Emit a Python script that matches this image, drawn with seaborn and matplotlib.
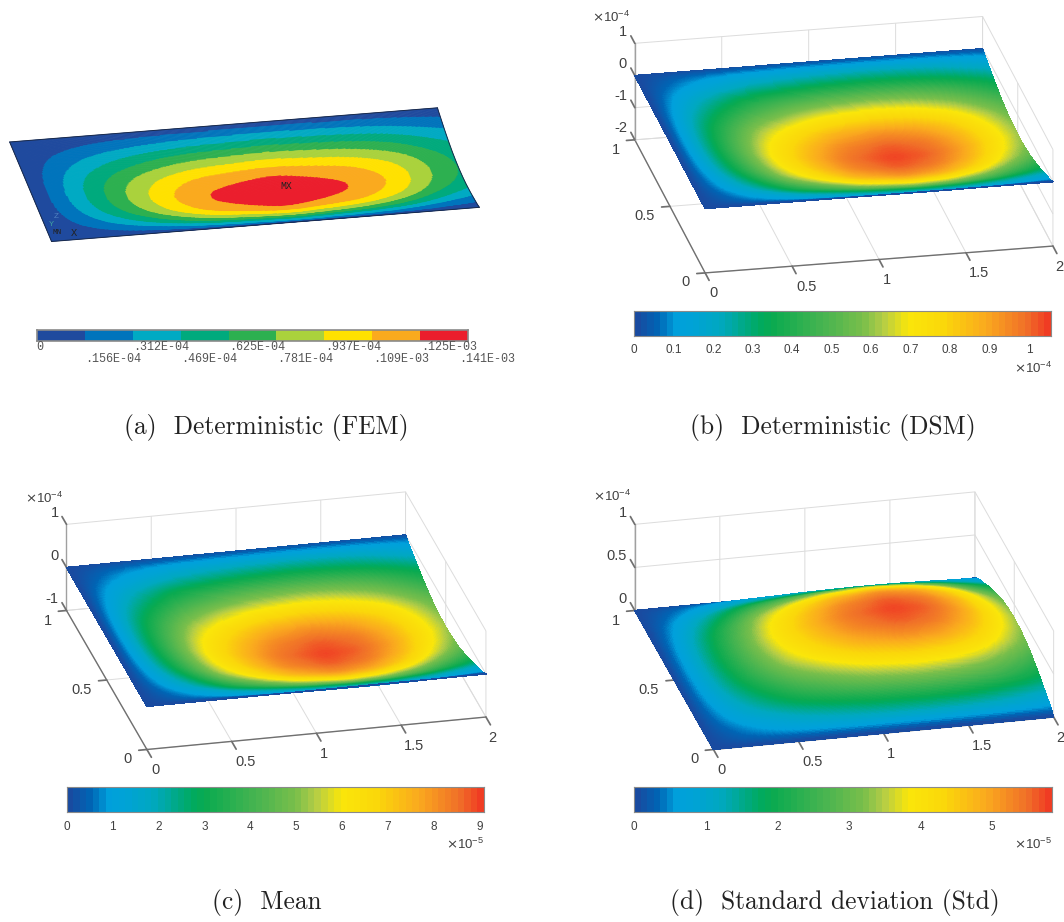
import numpy as np
import matplotlib
matplotlib.use("Agg")
import matplotlib.pyplot as plt
from matplotlib.colors import LinearSegmentedColormap, ListedColormap, BoundaryNorm, Normalize
import seaborn as sns

sns.set_theme(style="white")
plt.rcParams["font.family"] = ["Liberation Sans", "DejaVu Sans"]
plt.rcParams["axes.unicode_minus"] = False
plt.rcParams["grid.color"] = "#dcdcdc"
plt.rcParams["grid.linewidth"] = 0.7

W, H = 1064, 922

# ---- values ----
x_nodes = [0, .08, .25, .42, .58, .8, 1.0, 1.28, 1.5, 1.7, 1.9, 2.0]
x_section_dsm = [0, .095, .31, .5, .67, .82, .93, 1.0, .96, .85, .67, .58]
x_nodes_fem = [0, .067, .16, .247, .34, .44, .545, .66, .81, 1.16, 1.51, 1.67, 1.78, 1.87, 2.0]
x_section_fem = [0, .111, .222, .333, .444, .556, .667, .778, .889, 1.0, .889, .778, .667, .556, .44]
y_nodes = [0, .02, .05, .1, .17, .23, .28, .34, .42, .5, .58, .66, .72, .77, .83, .9, .95, .98, 1]
y_section = [0, .1, .2, .32, .53, .67, .78, .89, .97, 1, .97, .89, .78, .67, .53, .32, .2, .1, 0]

peak_fem = 0.141     # x 1e-3
peak_dsm = 1.055     # x 1e-4
peak_mean = 0.909    # x 1e-4
peak_std = 0.583     # x 1e-4

cb_ticks_dsm = [0, .1, .2, .3, .4, .5, .6, .7, .8, .9, 1]
cb_labels_dsm = ["0", "0.1", "0.2", "0.3", "0.4", "0.5", "0.6", "0.7", "0.8", "0.9", "1"]
cb_max_dsm = 1.055
cb_ticks_mean = [0, 1, 2, 3, 4, 5, 6, 7, 8, 9]
cb_max_mean = 9.09
cb_ticks_std = [0, 1, 2, 3, 4, 5]
cb_max_std = 5.83

x_ticks = [0, .5, 1, 1.5, 2]
x_labels = ["0", "0.5", "1", "1.5", "2"]
y_ticks = [0, .5, 1]
y_labels = ["0", "0.5", "1"]

cmap_pos = [0, .05, .095, .14, .2, .30, .33, .45, .55, .60, .66, .75, .85, .95, 1]
cmap_cols = ["#194ba0", "#0064b4", "#00a0dc", "#00a3d4", "#00a8c0", "#00aa5f", "#0aaa50", "#46b450", "#78be4b",
             "#b4cd46", "#fae60a", "#fad70a", "#faaa1e", "#f06e28", "#f03c23"]
fem_cols = ["#1f4a9e", "#0074bc", "#00aac3", "#00aa7d", "#2db050", "#aad23c", "#ffe100", "#faaa1e", "#eb1e2d"]
fem_labels_row1 = ["0", ".312E-04", ".625E-04", ".937E-04", ".125E-03"]
fem_row1_px = [40, 161, 257, 353, 449]
fem_labels_row2 = [".156E-04", ".469E-04", ".781E-04", ".109E-03", ".141E-03"]
fem_row2_px = [113, 209, 305, 401, 487]

# ---- helpers ----
dpi = 100
fig = plt.figure(figsize=(W / dpi, H / dpi), dpi=dpi, facecolor="white")
SCALE_FIX = 1 / 0.968
SHIFT_FIX = np.array([-8.6, 10.0])


def fx(px):
    return px / W


def fy(py):
    return 1 - py / H


def section(nodes, vals, n, k):
    g = np.linspace(nodes[0], nodes[-1], n)
    v = np.interp(g, nodes, vals)
    pad = np.r_[2 * v[0] - v[k:0:-1], v, 2 * v[-1] - v[-2:-k - 2:-1]]
    s = np.convolve(pad, np.ones(k) / k, mode="same")[k:-k]
    s[0], s[-1] = v[0], v[-1]
    return g, np.clip(s, 0, 1)


def box_axes(F, Xend, Yend, zlen):
    """3-D axes whose orthographic box lands on the given layout corners (pixels)."""
    F, Xend, Yend = map(np.array, (F, Xend, Yend))
    vx, vy = Xend - F, Yend - F
    a, b = -vx[1] / vx[0], vy[1] / vy[0]
    sin_el = np.sqrt(a * b)
    el = np.degrees(np.arcsin(sin_el))
    az = 180 + np.degrees(np.arctan(b / sin_el))
    Bx = vx[0] / abs(np.sin(np.radians(az)))
    By = -vy[0] / abs(np.cos(np.radians(az)))
    Bz = zlen / np.cos(np.radians(el))
    A = np.array([Bx, By, Bz])
    S = 700.0
    cx, cy = F + .5 * vx + .5 * vy + np.array([0, -.5 * zlen]) + SHIFT_FIX
    ax = fig.add_axes([(cx - S / 2) / W, 1 - (cy + S / 2) / H, S / W, S / H], projection="3d", proj_type="ortho")
    zoom = SCALE_FIX * 1.8 * np.linalg.norm(A) / (S * 1.8294640721620434 * 25 / 24)
    ax.set_box_aspect(A, zoom=zoom)
    ax.view_init(elev=el, azim=az, roll=0)
    ax.set_facecolor("none")
    return ax


def style3d(ax, F, Xend, Yend, zlen, zlim, zticks, zlabels):
    ax.set_xlim(0, 2, view_margin=0)
    ax.set_ylim(0, 1, view_margin=0)
    ax.set_zlim(*zlim, view_margin=0)
    ax.set_xticks(x_ticks, [""] * len(x_ticks))
    ax.set_yticks(y_ticks, [""] * len(y_ticks))
    ax.set_zticks(zticks, [""] * len(zticks))
    ax.grid(True)
    for axis, out, col in zip((ax.xaxis, ax.yaxis, ax.zaxis), (-0.7, -0.3, 0.7), ("#707070", "#707070", "#a0a0a0")):
        axis.set_pane_color((1, 1, 1, 0))
        axis.pane.set_edgecolor("#dcdcdc")
        axis.line.set_color(col)
        axis.line.set_linewidth(1.0)
        axis._axinfo["tick"]["inward_factor"] = 0.0
        axis._axinfo["tick"]["outward_factor"] = out
        axis.set_tick_params(color="#707070", width=0.9)
    ax.zaxis._get_tickdir = lambda position: 1
    F, Xend, Yend = map(np.array, (F, Xend, Yend))
    for t, lab in zip(x_ticks, x_labels):
        p = F + (Xend - F) * t / 2
        fig.text(fx(p[0] + 4.5), fy(p[1] + 21.6), lab, fontsize=10.5, color="#404040", ha="left", va="center")
    for t, lab in zip(y_ticks, y_labels):
        p = F + (Yend - F) * t
        fig.text(fx(p[0] - 15), fy(p[1] + 10.5), lab, fontsize=10.5, color="#404040", ha="right", va="center")
    corner = Yend
    for t, lab in zip(zticks, zlabels):
        py = corner[1] - zlen * (t - zlim[0]) / (zlim[1] - zlim[0])
        fig.text(fx(corner[0] - 8), fy(py - 11), lab, fontsize=10.5, color="#404040", ha="right", va="center")


cmap_smooth = LinearSegmentedColormap.from_list("jetlike", list(zip(cmap_pos, cmap_cols)))
palette = sns.color_palette([cmap_smooth(i / 63) for i in range(64)])
cmap64 = ListedColormap(palette)

NX, NY = 361, 201
gx, sx = section(x_nodes, x_section_dsm, NX, 25)
gy, sy = section(y_nodes, y_section, NY, 9)
_, sy_fem = section(y_nodes, y_section, NY, 17)
shape = np.outer(sy, sx)
MX, MY = np.meshgrid(gx, gy)


def surface(ax, sign, peak):
    w = shape * peak
    cols = cmap_smooth(Normalize(0, peak)(w))
    ax.plot_surface(MX, MY, sign * w, facecolors=cols, rstride=1, cstride=1, shade=False,
                    antialiased=False, linewidth=0.3)


def strip(rect_px, vmax, ticks, labels, expo, expo_px):
    l, t, r, b = rect_px
    ax = fig.add_axes([l / W, 1 - b / H, (r - l) / W, (b - t) / H])
    vals = (np.arange(64) + .5)[None, :]
    sns.heatmap(vals, ax=ax, cmap=cmap64, vmin=0, vmax=64, cbar=False, xticklabels=False, yticklabels=False)
    ax.set_xticks(np.array(ticks) / vmax * 64, labels, rotation=0)
    ax.set_yticks([])
    ax.tick_params(axis="x", direction="in", length=2.5, width=0.7, color="#505050", labelsize=8.5,
                   labelcolor="#404040", pad=6, bottom=True)
    for s in ax.spines.values():
        s.set_visible(True)
        s.set_color("#8a8a8a")
        s.set_linewidth(0.8)
    fig.text(fx(expo_px[0]), fy(expo_px[1]), r"$\times\mathregular{10^{" + expo + "}}$", color="#404040",
             fontsize=9.5, ha="right", va="center")


# ---- (a) FEM ----
axa = box_axes((51.7, 240.7 + 31), (477.3, 206.7 + 31), (10, 141.7 + 31), 31)
axa.set_axis_off()
axa.set_xlim(0, 2, view_margin=0)
axa.set_ylim(0, 1, view_margin=0)
axa.set_zlim(-.2, 0, view_margin=0)
_, sxf = section(x_nodes_fem, x_section_fem, NX, 25)
w_fem = np.outer(sy_fem, sxf) * peak_fem
lev = np.linspace(0, peak_fem, 10)
cmf = ListedColormap(fem_cols)
axa.plot_surface(MX, MY, -w_fem, facecolors=cmf(BoundaryNorm(lev, 9)(w_fem)), rstride=1, cstride=1,
                 shade=False, antialiased=True, linewidth=.3)
for X, Y, Z in [(MX[0], MY[0], -w_fem[0]), (MX[-1], MY[-1], -w_fem[-1]),
                (MX[:, 0], MY[:, 0], -w_fem[:, 0]), (MX[:, -1], MY[:, -1], -w_fem[:, -1])]:
    axa.plot(X, Y, Z, color="#1a2a4a", lw=0.7, zorder=10)

fig.text(fx(286.7), fy(186), "MX", family="Liberation Mono", fontsize=7, color="#222222", ha="center", va="center", zorder=20)
fig.text(fx(57.5), fy(233), "MN", family="Liberation Mono", fontsize=5.5, color="#222222", ha="center", va="center", zorder=20)
fig.text(fx(74), fy(233), "X", family="Liberation Mono", fontsize=7.5, color="#222222", ha="center", va="center", zorder=20)
fig.text(fx(51), fy(224), "Y", family="Liberation Mono", fontsize=6, color="#40a0a0", ha="center", va="center", zorder=20)
fig.text(fx(56), fy(216), "Z", family="Liberation Mono", fontsize=6, color="#5080c0", ha="center", va="center", zorder=20)

axb_a = fig.add_axes([37 / W, 1 - 341 / H, 431 / W, 11 / H])
sns.heatmap(np.arange(9)[None, :], ax=axb_a, cmap=cmf, vmin=-.5, vmax=8.5, cbar=False, xticklabels=False, yticklabels=False)
for s in axb_a.spines.values():
    s.set_visible(True)
    s.set_color("#8a8a8a")
    s.set_linewidth(1.2)
for lab, px in zip(fem_labels_row1, fem_row1_px):
    fig.text(fx(px), fy(347), lab, family="Liberation Mono", fontsize=8.5, color="#555555", ha="center", va="center")
for lab, px in zip(fem_labels_row2, fem_row2_px):
    fig.text(fx(px), fy(358.5), lab, family="Liberation Mono", fontsize=8.5, color="#555555", ha="center", va="center")

# ---- (b) DSM ----
box_b = ((705, 271.7), (1051, 245), (635, 139.3), 96)
axb = box_axes(*box_b)
style3d(axb, *box_b, (-2, 1), [-2, -1, 0, 1], ["-2", "-1", "0", "1"])
surface(axb, -1, peak_dsm)
fig.text(fx(630), fy(17), r"$\times\mathregular{10^{-4}}$", fontsize=9.5, color="#404040", ha="right", va="center")
strip((634.3, 310.7, 1050.7, 335.7), cb_max_dsm, cb_ticks_dsm, cb_labels_dsm, "-4", (1052, 368))

# ---- (c) Mean ----
box_c = ((146.7, 748.3), (484, 716), (66.7, 610), 85.7)
axc = box_axes(*box_c)
style3d(axc, *box_c, (-1, 1), [-1, 0, 1], ["-1", "0", "1"])
surface(axc, -1, peak_mean)
fig.text(fx(63), fy(498), r"$\times\mathregular{10^{-4}}$", fontsize=9.5, color="#404040", ha="right", va="center")
strip((66.7, 786.7, 484, 812.3), cb_max_mean, cb_ticks_mean, [str(t) for t in cb_ticks_mean], "-5", (484, 844))

# ---- (d) Std ----
box_d = ((713.3, 748.3), (1051.7, 716), (635, 610), 85.7)
axd = box_axes(*box_d)
style3d(axd, *box_d, (0, 1), [0, .5, 1], ["0", "0.5", "1"])
surface(axd, 1, peak_std)
fig.text(fx(631), fy(496), r"$\times\mathregular{10^{-4}}$", fontsize=9.5, color="#404040", ha="right", va="center")
strip((634.3, 786.7, 1051.7, 812.3), cb_max_std, cb_ticks_std, [str(t) for t in cb_ticks_std], "-5", (1052, 844))

# ---- captions ----
captions = ["(a)  Deterministic (FEM)", "(b)  Deterministic (DSM)", "(c)  Mean", "(d)  Standard deviation (Std)"]
cap_px = [(266, 427), (833, 427), (267, 902), (835, 902)]
for c, (px, py) in zip(captions, cap_px):
    fig.text(fx(px), fy(py), c, family="cmr10", fontsize=18.3, color="#222222", ha="center", va="center")

fig.savefig("out.png", dpi=dpi)
